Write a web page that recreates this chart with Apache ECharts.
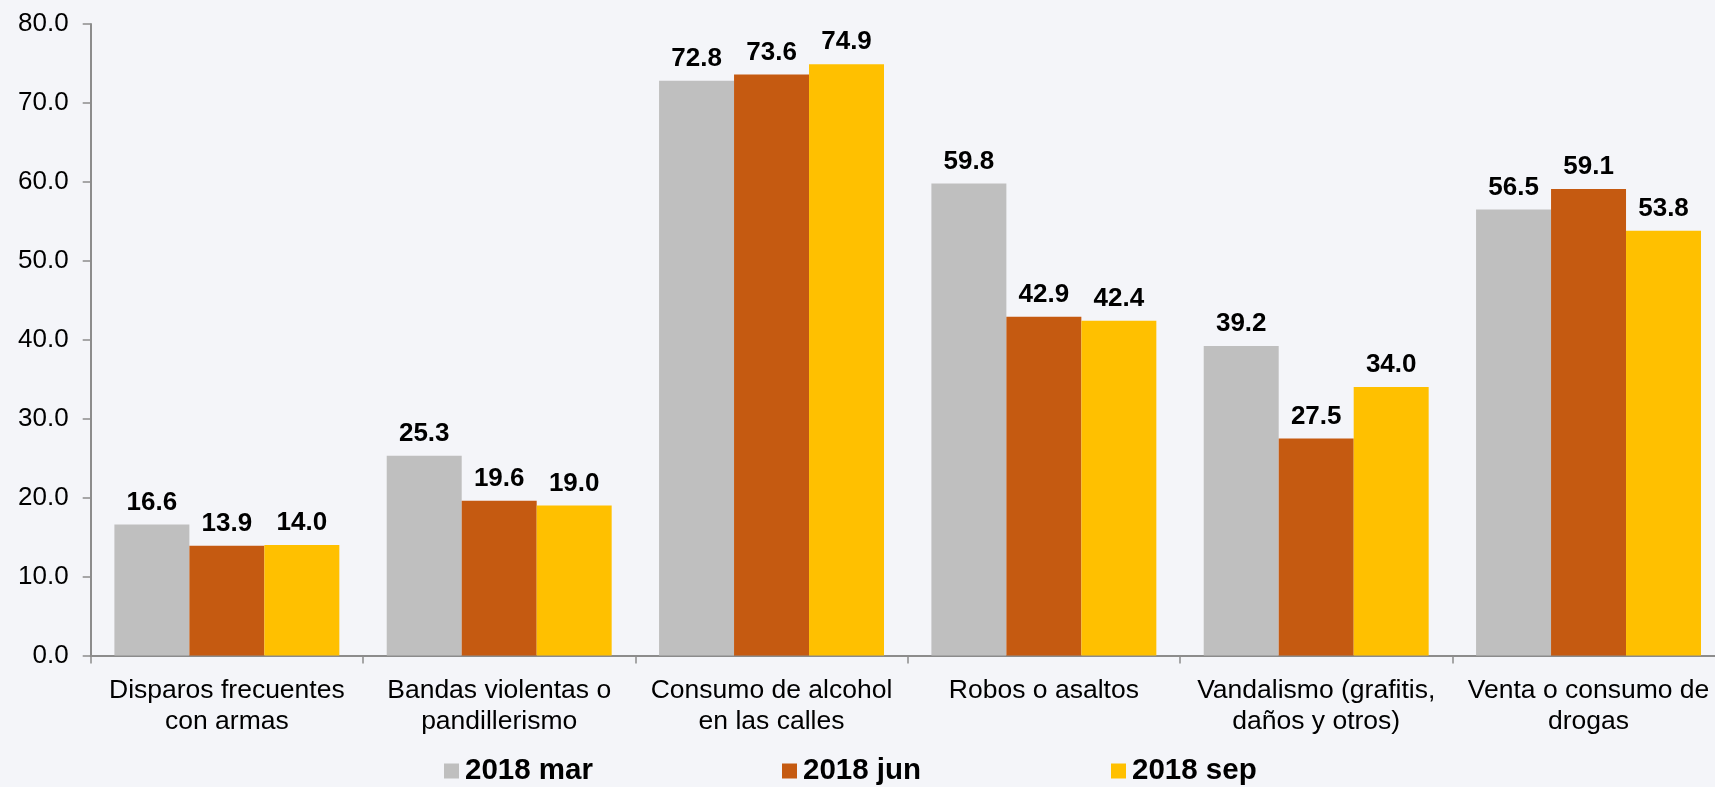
<!DOCTYPE html>
<html>
<head>
<meta charset="utf-8">
<script src="https://cdn.jsdelivr.net/npm/echarts@6/dist/echarts.min.js"></script>
<style>
html,body{margin:0;padding:0;background:#F4F5F9;}
#chart{width:1715px;height:787px;}
</style>
</head>
<body>
<div id="chart"></div>
<script>
const categories = [
  "Disparos frecuentes\ncon armas",
  "Bandas violentas o\npandillerismo",
  "Consumo de alcohol\nen las calles",
  "Robos o asaltos",
  "Vandalismo (grafitis,\ndaños y otros)",
  "Venta o consumo de\ndrogas"
];
const seriesNames = ["2018 mar", "2018 jun", "2018 sep"];
const marValues = [16.6, 25.3, 72.8, 59.8, 39.2, 56.5];
const junValues = [13.9, 19.6, 73.6, 42.9, 27.5, 59.1];
const sepValues = [14.0, 19.0, 74.9, 42.4, 34.0, 53.8];
const colors = ["#BFBFBF", "#C55A11", "#FFC000"];

const FONT = "'Liberation Sans', Arial, sans-serif";
const chart = echarts.init(document.getElementById('chart'));

function mkSeries(name, data, color) {
  return {
    name: name,
    type: 'bar',
    data: data,
    barGap: '0%',
    barCategoryGap: '17.4%',
    itemStyle: { color: color },
    label: {
      show: true,
      position: 'top',
      distance: 9,
      color: '#000',
      fontFamily: FONT,
      fontWeight: 'bold',
      fontSize: 26,
      formatter: p => p.value.toFixed(1)
    }
  };
}

function mkLegend(name, left) {
  return {
    data: [name],
    left: left,
    top: 756,
    padding: 0,
    icon: 'rect',
    itemWidth: 15,
    itemHeight: 15,
    itemGap: 0,
    textStyle: { fontFamily: FONT, fontWeight: 'bold', fontSize: 29.5, color: '#000', padding: [0,0,0,1] }
  };
}

chart.setOption({
  backgroundColor: '#F4F5F9',
  animation: false,
  color: colors,
  grid: { left: 90.7, top: 24, width: 1634, height: 631.5, outerBoundsMode: 'none', containLabel: false },
  legend: [
    mkLegend(seriesNames[0], 444),
    mkLegend(seriesNames[1], 782),
    mkLegend(seriesNames[2], 1111)
  ],
  xAxis: {
    type: 'category',
    data: categories,
    axisLine: { lineStyle: { color: '#8C8C8C', width: 2 } },
    axisTick: { show: true, length: 8, lineStyle: { color: '#8C8C8C', width: 1.5 } },
    axisLabel: { interval: 0, margin: 20, color: '#000', fontFamily: FONT, fontSize: 26.5, lineHeight: 31 }
  },
  yAxis: {
    type: 'value',
    min: 0, max: 80, interval: 10,
    splitLine: { show: false },
    axisLine: { show: true, lineStyle: { color: '#8C8C8C', width: 2 } },
    axisTick: { show: true, length: 8, lineStyle: { color: '#8C8C8C', width: 1.5 } },
    axisLabel: { margin: 22, color: '#000', fontFamily: FONT, fontSize: 26, formatter: v => v.toFixed(1) }
  },
  series: [
    mkSeries(seriesNames[0], marValues, colors[0]),
    mkSeries(seriesNames[1], junValues, colors[1]),
    mkSeries(seriesNames[2], sepValues, colors[2])
  ]
});
</script>
</body>
</html>
